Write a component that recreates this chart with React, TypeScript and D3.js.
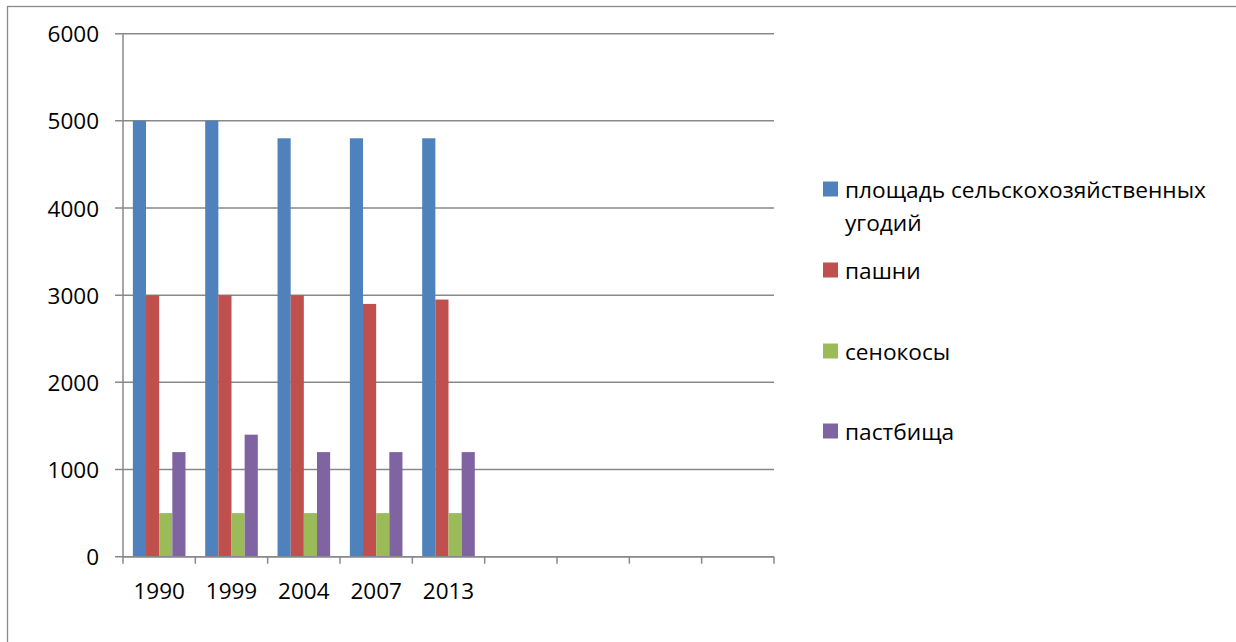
import * as d3 from "d3";

// categories (9 slots on the axis, only the first five carry data)
const years = ["1990", "1999", "2004", "2007", "2013"];
const slotCount = 9;

const seriesNames = [
  "площадь сельскохозяйственных угодий",
  "пашни",
  "сенокосы",
  "пастбища",
];
const seriesColors = ["#4F81BD", "#C0504D", "#9BBB59", "#8064A2"];

const totalArea = [5000, 5000, 4800, 4800, 4800];
const arable = [3000, 3000, 3000, 2900, 2950];
const hayfields = [500, 500, 500, 500, 500];
const pastures = [1200, 1400, 1200, 1200, 1200];
const seriesValues = [totalArea, arable, hayfields, pastures];

const yTicks = [0, 1000, 2000, 3000, 4000, 5000, 6000];

const W = 1236;
const H = 642;
const font = "'Open Sans', sans-serif";

export default function App() {
  const plot = { left: 123, right: 774, top: 33.7, bottom: 556.7 };

  const x = d3
    .scaleBand<number>()
    .domain(d3.range(slotCount))
    .range([plot.left, plot.right])
    .padding(0);

  // 150% gap width: 0.75 bar on each side of the group
  const inner = d3
    .scaleBand<number>()
    .domain(d3.range(seriesNames.length))
    .range([0, x.step()])
    .paddingInner(0)
    .paddingOuter(0.75);

  const y = d3.scaleLinear().domain([0, 6000]).range([plot.bottom, plot.top]);

  const tickX = d3.range(slotCount + 1).map((i) => plot.left + i * x.step());

  const legendRows = [
    { lines: ["площадь сельскохозяйственных", "угодий"], cy: 189 },
    { lines: ["пашни"], cy: 270 },
    { lines: ["сенокосы"], cy: 351 },
    { lines: ["пастбища"], cy: 431 },
  ];

  return (
    <svg
      width={W}
      height={H}
      style={{ position: "absolute", left: 0, top: 0, background: "#fff" }}
      fontFamily={font}
    >
      <rect x={7.5} y={6.5} width={W + 20} height={H + 20} fill="#fff" stroke="#8a8a8a" strokeWidth={1.3} />

      {/* gridlines + y ticks */}
      {yTicks.map((t) => (
        <g key={t}>
          <line
            x1={plot.left - 8}
            x2={plot.right}
            y1={y(t)}
            y2={y(t)}
            stroke="#888"
            strokeWidth={1.5}
          />
          <text
            x={99}
            y={y(t)}
            textAnchor="end"
            dominantBaseline="central"
            fontSize={22.5}
            fill="#000"
          >
            {t}
          </text>
        </g>
      ))}

      {/* bars */}
      {seriesValues.map((vals, s) =>
        vals.map((v, i) => (
          <rect
            key={`${s}-${i}`}
            x={x(i)! + inner(s)!}
            y={y(v)}
            width={inner.bandwidth()}
            height={y(0) - y(v)}
            fill={seriesColors[s]}
          />
        ))
      )}

      {/* axes */}
      <line x1={plot.left} x2={plot.left} y1={plot.top} y2={plot.bottom} stroke="#888" strokeWidth={1.5} />
      <line x1={plot.left} x2={plot.right} y1={plot.bottom} y2={plot.bottom} stroke="#888" strokeWidth={1.5} />
      {tickX.map((tx, i) => (
        <line key={i} x1={tx} x2={tx} y1={plot.bottom} y2={plot.bottom + 7} stroke="#888" strokeWidth={1.5} />
      ))}
      {years.map((yr, i) => (
        <text
          key={yr}
          x={x(i)! + x.bandwidth() / 2}
          y={590}
          textAnchor="middle"
          dominantBaseline="central"
          fontSize={22.5}
          fill="#000"
        >
          {yr}
        </text>
      ))}

      {/* legend */}
      {legendRows.map((row, s) => (
        <g key={s}>
          <rect x={823} y={row.cy - 7.5} width={15} height={15} fill={seriesColors[s]} />
          {row.lines.map((ln, j) => (
            <text
              key={j}
              x={845}
              y={row.cy + j * 33}
              dominantBaseline="central"
              fontSize={22.7}
              fill="#000"
            >
              {ln}
            </text>
          ))}
        </g>
      ))}
    </svg>
  );
}
